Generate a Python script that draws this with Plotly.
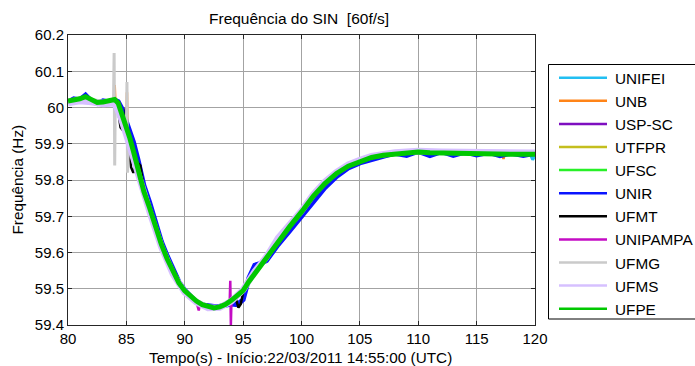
import plotly.graph_objects as go

# ---------------- data ----------------
X_TICKS = [80, 85, 90, 95, 100, 105, 110, 115, 120]
X_TICK_LABELS = ["80", "85", "90", "95", "100", "105", "110", "115", "120"]
Y_TICKS = [59.4, 59.5, 59.6, 59.7, 59.8, 59.9, 60.0, 60.1, 60.2]
Y_TICK_LABELS = ["59.4", "59.5", "59.6", "59.7", "59.8", "59.9", "60", "60.1", "60.2"]

NAMES = ["UNIFEI", "UNB", "USP-SC", "UTFPR", "UFSC", "UNIR",
         "UFMT", "UNIPAMPA", "UFMG", "UFMS", "UFPE"]

T_COARSE = [80, 81, 82, 83, 84, 84.5, 85, 85.5, 86, 86.5, 87, 88, 89, 90, 91, 92, 93, 94,
            95, 96, 97, 98, 99, 100, 101, 102, 103, 104, 105, 106, 108, 110, 112, 114,
            116, 118, 120]

T_MAIN = [80, 80.5, 81, 81.5, 82, 82.5, 83, 83.5, 84, 84.3, 84.6, 85, 85.3, 85.6, 86,
          86.5, 87, 87.5, 88, 88.5, 89, 89.5, 90, 90.5, 91, 91.5, 92, 92.5, 93, 93.5,
          94, 94.5, 95, 95.5, 96, 96.5, 97, 97.5, 98, 99, 100, 101, 102, 103, 104, 105,
          106, 107, 108, 109, 110, 111, 112, 113, 114, 115, 116, 117, 118, 119, 120]

UNIFEI_T = [80, 81, 82, 83, 84, 84.5, 85, 85.5, 86, 86.5, 87, 88, 89, 90, 91, 92, 93, 94,
            95, 96, 97, 98, 99, 100, 101, 102, 103, 104, 105, 106, 108, 110, 112, 114,
            116, 118, 119.6, 119.8, 120]
UNIFEI_HZ = [60.017, 60.023, 60.019, 60.015, 60.021, 59.994, 59.946, 59.890, 59.831,
             59.767, 59.723, 59.621, 59.546, 59.494, 59.466, 59.450, 59.451, 59.468,
             59.496, 59.544, 59.584, 59.633, 59.671, 59.711, 59.754, 59.789, 59.817,
             59.837, 59.850, 59.861, 59.871, 59.875, 59.873, 59.873, 59.871, 59.870,
             59.871, 59.856, 59.868]

UNB_T = [80, 81, 82, 83, 83.95, 84.0, 84.05, 84.5, 85.0, 85.05, 85.15, 85.5, 86, 86.5, 87,
         88, 89, 90, 91, 92, 93, 94, 95, 96, 97, 98, 99, 100, 101, 102, 103, 104, 105,
         106, 108, 110, 112, 114, 116, 117.2, 117.3, 117.4, 118, 120]
UNB_HZ = [60.017, 60.023, 60.019, 60.014, 60.022, 60.062, 60.020, 59.993, 59.945, 60.042,
          59.852, 59.889, 59.830, 59.766, 59.721, 59.620, 59.545, 59.493, 59.466, 59.450,
          59.451, 59.468, 59.496, 59.544, 59.585, 59.634, 59.672, 59.712, 59.755, 59.790,
          59.818, 59.838, 59.851, 59.862, 59.872, 59.876, 59.874, 59.874, 59.872, 59.871,
          59.858, 59.870, 59.871, 59.871]

USPSC_T = T_COARSE
USPSC_HZ = [60.014, 60.022, 60.018, 60.012, 60.020, 59.992, 59.940, 59.885, 59.826,
            59.762, 59.718, 59.617, 59.543, 59.492, 59.465, 59.449, 59.450, 59.467,
            59.497, 59.546, 59.587, 59.636, 59.674, 59.713, 59.757, 59.792, 59.820,
            59.840, 59.853, 59.863, 59.874, 59.877, 59.876, 59.875, 59.873, 59.872, 59.872]

UTFPR_T = T_COARSE
UTFPR_HZ = [60.016, 60.021, 60.017, 60.014, 60.019, 59.993, 59.944, 59.888, 59.829,
            59.766, 59.721, 59.620, 59.545, 59.493, 59.466, 59.450, 59.450, 59.468,
            59.496, 59.544, 59.585, 59.634, 59.672, 59.712, 59.755, 59.790, 59.818,
            59.838, 59.851, 59.862, 59.872, 59.876, 59.874, 59.874, 59.872, 59.871, 59.871]

UFSC_T = T_COARSE
UFSC_HZ = [60.018, 60.024, 60.020, 60.015, 60.022, 59.995, 59.945, 59.889, 59.830,
           59.767, 59.722, 59.621, 59.546, 59.494, 59.466, 59.449, 59.450, 59.468,
           59.495, 59.543, 59.585, 59.633, 59.672, 59.712, 59.755, 59.790, 59.818,
           59.838, 59.851, 59.862, 59.872, 59.877, 59.874, 59.874, 59.872, 59.871, 59.871]

UNIR_T = T_MAIN
UNIR_HZ = [60.015, 60.024, 60.021, 60.034, 60.017, 60.011, 60.018, 60.015, 60.020, 60.016,
           59.998, 59.962, 59.936, 59.905, 59.855, 59.785, 59.737, 59.680, 59.630, 59.590,
           59.551, 59.519, 59.496, 59.477, 59.463, 59.455, 59.452, 59.451, 59.452, 59.455,
           59.458, 59.456, 59.470, 59.530, 59.565, 59.570, 59.578, 59.600, 59.622, 59.660,
           59.700, 59.743, 59.779, 59.810, 59.833, 59.847, 59.857, 59.866, 59.874, 59.868,
           59.879, 59.867, 59.878, 59.868, 59.877, 59.869, 59.876, 59.867, 59.874, 59.868,
           59.874]

UFMT_T = [80, 81, 82, 83, 84, 84.3, 84.5, 84.9, 84.95, 85.0, 85.1, 85.4, 85.6, 85.9, 86.2,
          86.5, 87, 88, 89, 90, 91, 92, 93, 94, 94.4, 94.6, 94.8, 95, 96, 97, 98, 99, 100,
          101, 102, 103, 104, 105, 106, 108, 110, 112, 114, 116, 118, 120]
UFMT_HZ = [60.015, 60.022, 60.018, 60.013, 60.020, 59.990, 59.945, 59.930, 60.000, 59.995,
           59.935, 59.835, 59.820, 59.850, 59.840, 59.775, 59.724, 59.621, 59.545, 59.493,
           59.465, 59.449, 59.450, 59.466, 59.470, 59.448, 59.458, 59.490, 59.543, 59.584,
           59.633, 59.671, 59.711, 59.754, 59.789, 59.817, 59.837, 59.850, 59.861, 59.871,
           59.876, 59.874, 59.874, 59.872, 59.871, 59.871]

UNIPAMPA_T = [80, 81, 82, 83, 84, 84.5, 85, 85.5, 86, 86.5, 87, 88, 89, 90, 91, 91.2, 91.3,
              92, 93, 93.85, 93.9, 93.95, 94.0, 95, 96, 97, 98, 99, 100, 101, 102, 103,
              104, 105, 106, 108, 110, 112, 114, 116, 118, 120]
UNIPAMPA_HZ = [60.013, 60.022, 60.018, 60.012, 60.021, 59.990, 59.942, 59.884, 59.826,
               59.762, 59.717, 59.616, 59.542, 59.491, 59.464, 59.440, 59.460, 59.449,
               59.450, 59.465, 59.522, 59.400, 59.467, 59.497, 59.546, 59.587, 59.636,
               59.674, 59.714, 59.757, 59.792, 59.820, 59.840, 59.853, 59.864, 59.874,
               59.878, 59.876, 59.876, 59.874, 59.873, 59.873]

UFMG_T = [80, 81, 82, 83, 83.9, 83.95, 84.0, 84.05, 84.5, 85.0, 85.05, 85.1, 85.2, 85.5, 86,
          86.5, 87, 88, 89, 90, 91, 92, 93, 94, 95, 96, 97, 98, 99, 100, 101, 102, 103, 104,
          105, 106, 108, 110, 112, 114, 116, 118, 120]
UFMG_HZ = [60.020, 60.026, 60.022, 60.017, 60.022, 60.150, 59.840, 60.015, 59.990, 59.945,
           60.070, 59.820, 59.920, 59.888, 59.832, 59.768, 59.724, 59.623, 59.548, 59.495,
           59.467, 59.451, 59.452, 59.470, 59.498, 59.546, 59.588, 59.637, 59.675, 59.715,
           59.758, 59.793, 59.821, 59.841, 59.855, 59.866, 59.877, 59.881, 59.879, 59.879,
           59.877, 59.876, 59.876]

UFMS_T = T_COARSE
UFMS_HZ = [60.012, 60.018, 60.015, 60.010, 60.012, 59.975, 59.925, 59.870, 59.815, 59.755,
           59.712, 59.615, 59.540, 59.490, 59.463, 59.447, 59.448, 59.466, 59.497, 59.548,
           59.588, 59.640, 59.675, 59.715, 59.760, 59.795, 59.822, 59.842, 59.855, 59.866,
           59.876, 59.880, 59.878, 59.878, 59.876, 59.875, 59.875]

UFPE_T = T_MAIN
UFPE_HZ = [60.018, 60.020, 60.024, 60.030, 60.020, 60.014, 60.015, 60.018, 60.022, 60.012,
           59.985, 59.945, 59.915, 59.880, 59.830, 59.768, 59.722, 59.668, 59.622, 59.582,
           59.546, 59.516, 59.494, 59.478, 59.466, 59.456, 59.450, 59.447, 59.450, 59.457,
           59.468, 59.480, 59.495, 59.520, 59.542, 59.562, 59.585, 59.610, 59.633, 59.672,
           59.712, 59.755, 59.790, 59.818, 59.838, 59.851, 59.862, 59.868, 59.872, 59.875,
           59.877, 59.875, 59.874, 59.875, 59.874, 59.873, 59.872, 59.870, 59.871, 59.871,
           59.871]

SERIES = {
    "UNIFEI": (UNIFEI_T, UNIFEI_HZ),
    "UNB": (UNB_T, UNB_HZ),
    "USP-SC": (USPSC_T, USPSC_HZ),
    "UTFPR": (UTFPR_T, UTFPR_HZ),
    "UFSC": (UFSC_T, UFSC_HZ),
    "UNIR": (UNIR_T, UNIR_HZ),
    "UFMT": (UFMT_T, UFMT_HZ),
    "UNIPAMPA": (UNIPAMPA_T, UNIPAMPA_HZ),
    "UFMG": (UFMG_T, UFMG_HZ),
    "UFMS": (UFMS_T, UFMS_HZ),
    "UFPE": (UFPE_T, UFPE_HZ),
}
for _n, (_t, _v) in SERIES.items():
    assert len(_t) == len(_v), (_n, len(_t), len(_v))

# ---------------- styles ----------------
COLORS = {
    "UNIFEI": "#22BFF2", "UNB": "#FF8418", "USP-SC": "#7E0FC0", "UTFPR": "#C4BE1E",
    "UFSC": "#28F028", "UNIR": "#0A14FF", "UFMT": "#000000", "UNIPAMPA": "#C40CC4",
    "UFMG": "#CACACA", "UFMS": "#D6C0FF", "UFPE": "#00C800",
}
WIDTHS = {
    "UNIFEI": 3, "UNB": 2.5, "USP-SC": 3, "UTFPR": 3, "UFSC": 3, "UNIR": 5,
    "UFMT": 2.5, "UNIPAMPA": 2.5, "UFMG": 3, "UFMS": 6.5, "UFPE": 5,
}

FONT = "Liberation Sans, Arial, sans-serif"
W, H = 695, 366
ML, MR, MT, MB = 68, 160, 35, 41
PW, PH = W - ML - MR, H - MT - MB


def px(x):
    return (x - ML) / PW


def py(y):
    return (H - MB - y) / PH


fig = go.Figure()
for name in NAMES:
    t, hz = SERIES[name]
    fig.add_trace(go.Scatter(
        x=t, y=hz, mode="lines", name=name, showlegend=False,
        line=dict(color=COLORS[name], width=WIDTHS[name]),
    ))

axis_common = dict(
    ticks="inside", ticklen=4, tickwidth=1, tickcolor="#262626",
    showline=True, linecolor="#262626", linewidth=1, mirror="ticks",
    showgrid=True, gridcolor="#a3a3a3", gridwidth=1, zeroline=False,
    tickfont=dict(family=FONT, size=15, color="#000000"),
)

fig.update_layout(
    width=W, height=H,
    margin=dict(l=ML, r=MR, t=MT, b=MB, pad=0),
    paper_bgcolor="white", plot_bgcolor="white",
    xaxis=dict(range=[80, 120], tickmode="array", tickvals=X_TICKS,
               ticktext=X_TICK_LABELS, **axis_common),
    yaxis=dict(range=[59.4, 60.2], tickmode="array", tickvals=Y_TICKS,
               ticktext=Y_TICK_LABELS, **axis_common),
)

shapes = []
annotations = []

# legend box
shapes.append(dict(type="rect", xref="paper", yref="paper",
                   x0=px(548.5), x1=px(705), y0=py(319), y1=py(64.5),
                   line=dict(color="#000000", width=1), fillcolor="white", layer="above"))
for i, name in enumerate(NAMES):
    yy = 77.7 + 23.1 * i
    shapes.append(dict(type="line", xref="paper", yref="paper",
                       x0=px(559), x1=px(607), y0=py(yy), y1=py(yy),
                       line=dict(color=COLORS[name], width=2.5), layer="above"))
    annotations.append(dict(xref="paper", yref="paper", x=px(612.5), y=py(yy + 0.5),
                            text=name, showarrow=False, xanchor="left", yanchor="middle",
                            font=dict(family=FONT, size=15.3, color="#000000")))

annotations.append(dict(xref="paper", yref="paper", x=px(299), y=py(18.5),
                        text="Frequência do SIN  [60f/s]", showarrow=False,
                        xanchor="center", yanchor="middle",
                        font=dict(family=FONT, size=15.5, color="#000000")))
annotations.append(dict(xref="paper", yref="paper", x=px(300), y=py(357),
                        text="Tempo(s) - Início:22/03/2011 14:55:00 (UTC)", showarrow=False,
                        xanchor="center", yanchor="middle",
                        font=dict(family=FONT, size=15.3, color="#000000")))
annotations.append(dict(xref="paper", yref="paper", x=px(16.5), y=py(180),
                        text="Frequência (Hz)", showarrow=False, textangle=-90,
                        xanchor="center", yanchor="middle",
                        font=dict(family=FONT, size=15.3, color="#000000")))

fig.update_layout(shapes=shapes, annotations=annotations)
fig.write_html("out.html")
